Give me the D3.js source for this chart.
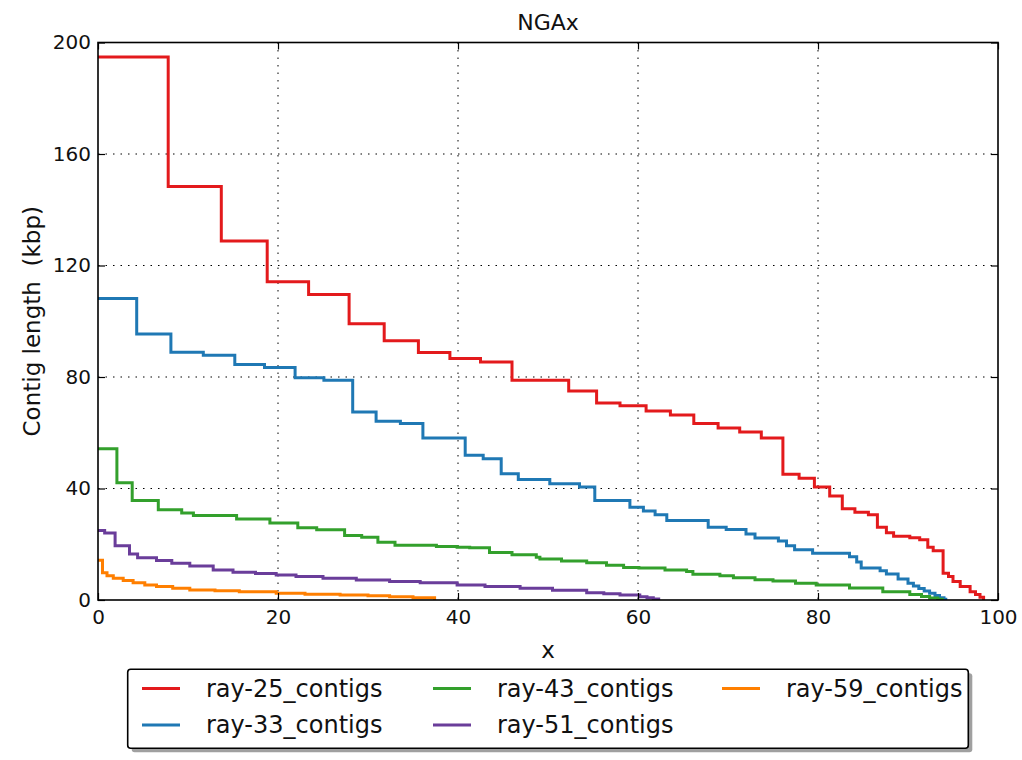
<!DOCTYPE html>
<html>
<head>
<meta charset="utf-8">
<script src="https://cdn.jsdelivr.net/npm/d3@7"></script>
<style>
  html, body { margin: 0; padding: 0; background: #fff; }
  svg { display: block; font-family: "DejaVu Sans", sans-serif; }
  text { white-space: pre; }
</style>
</head>
<body>
<svg id="chart" width="1022" height="760"></svg>
<script>
// ---- data ----
const title = "NGAx";
const xLabel = "x";
const yLabel = "Contig length  (kbp)";
const xTicks = [0, 20, 40, 60, 80, 100];
const yTicks = [0, 40, 80, 120, 160, 200];
const seriesNames = ["ray-25_contigs", "ray-33_contigs", "ray-43_contigs", "ray-51_contigs", "ray-59_contigs"];
const seriesColors = ["#E31A1C", "#1F78B4", "#33A02C", "#6A3D9A", "#FF7F00"];

const ray25X = [0,7.8,13.7,18.8,23.4,27.9,31.8,35.6,39.1,42.5,46.0,52.3,55.4,58.0,60.9,63.6,66.2,68.9,71.3,73.7,76.1,77.9,79.6,81.3,82.7,84.1,85.6,86.6,87.6,88.4,90.2,91.3,92.2,92.8,93.9,94.5,95.0,95.8,96.9,97.5,98.0,98.4];
const ray25Y = [194.8,148.3,128.8,114.2,109.6,99.1,93.0,88.8,86.6,85.4,78.8,75.0,70.7,69.7,67.8,66.4,63.3,61.7,60.3,58.1,45.1,43.7,40.5,37.3,32.7,31.5,30.6,26.1,24.1,22.9,22.3,21.6,18.9,17.7,9.6,8.4,6.6,4.8,3.0,2.0,1.0,0];

const ray33X = [0,4.3,8.1,11.7,15.2,18.5,21.9,25.1,28.3,30.9,33.6,36.1,40.8,42.8,44.8,46.7,50.2,53.5,55.2,59.1,60.6,61.9,63.2,67.8,69.8,72.0,73.0,75.6,76.5,77.4,79.4,83.5,84.3,84.8,86.9,87.6,88.9,90.0,90.6,91.2,91.8,92.4,93.0,93.5,94.0,94.2];
const ray33Y = [108.2,95.4,88.9,87.8,84.5,83.4,79.7,78.8,67.4,64.1,63.3,58.1,51.9,50.7,45.3,43.2,41.7,40.5,35.7,33.3,31.9,30.6,28.5,26.1,25.3,23.7,22.2,21.2,19.5,18.0,16.8,15.5,13.6,11.5,10.5,9.3,7.5,6.0,5.0,4.1,3.2,2.4,1.6,0.8,0.3,0];

const ray43X = [0,2.1,3.8,6.7,9.3,10.6,15.4,19.1,22.2,24.3,27.4,29.3,31.1,33.0,37.6,39.9,41.3,43.5,46.0,48.7,49.1,51.5,54.3,56.5,58.4,60.1,63.0,65.4,66.1,69.1,70.6,73.0,75.0,77.5,79.8,83.5,87.2,90.2,91.5,92.4,93.3,93.8];
const ray43Y = [54.3,42.1,35.7,32.4,31.2,30.3,29.1,27.6,25.9,25.2,23.1,22.5,20.7,19.6,19.2,18.9,18.7,17.0,16.2,15.3,14.7,14.0,13.4,12.5,11.7,11.5,10.8,10.2,9.2,8.7,8.0,7.3,6.8,6.0,5.4,4.3,3.0,2.0,1.3,0.7,0.3,0];

const ray51X = [0,0.74,1.9,3.5,4.4,6.5,8.2,10.2,12.8,15.0,17.5,19.8,22.0,25.0,28.7,32.4,35.8,39.9,43.0,46.9,50.5,54.3,56.2,58.0,60.2,61.0,61.7,62.3];
const ray51Y = [24.9,24.0,19.5,16.5,15.2,14.2,13.2,12.2,10.8,10.0,9.5,9.0,8.4,7.8,7.2,6.6,6.2,5.4,4.8,4.2,3.5,2.6,2.2,1.8,1.2,0.8,0.4,0];

const ray59X = [0,0.5,1.0,1.7,2.8,3.9,5.2,6.5,8.3,10.2,13.0,15.7,19.8,23.0,26.9,30.0,32.4,35.0,37.4];
const ray59Y = [14.3,9.8,8.7,7.8,7.0,6.2,5.4,4.8,4.2,3.6,3.3,3.0,2.4,2.1,1.8,1.5,1.2,0.8,0];

const seriesX = [ray25X, ray33X, ray43X, ray51X, ray59X];
const seriesY = [ray25Y, ray33Y, ray43Y, ray51Y, ray59Y];

// ---- layout ----
const svg = d3.select("#chart");
const L = 98, R = 998, T = 42.5, B = 600;

const x = d3.scaleLinear().domain([0, 100]).range([L, R]);
const y = d3.scaleLinear().domain([0, 200]).range([B, T]);

// grid
const grid = svg.append("g");
grid.selectAll("line.gx").data(xTicks.slice(1, -1)).enter().append("line")
  .attr("x1", d => x(d)).attr("x2", d => x(d)).attr("y1", T).attr("y2", B)
  .attr("stroke", "#000").attr("stroke-width", 1).attr("stroke-dasharray", "1.5,6");
grid.selectAll("line.gy").data(yTicks.slice(1, -1)).enter().append("line")
  .attr("y1", d => y(d)).attr("y2", d => y(d)).attr("x1", L).attr("x2", R)
  .attr("stroke", "#000").attr("stroke-width", 1).attr("stroke-dasharray", "1.5,6");

// lines
const line = d3.line().x(d => x(d[0])).y(d => y(d[1])).curve(d3.curveStepAfter);
svg.append("clipPath").attr("id", "clip").append("rect")
  .attr("x", L).attr("y", T - 2).attr("width", R - L).attr("height", B - T + 2);
const lines = svg.append("g").attr("clip-path", "url(#clip)");
seriesNames.forEach((name, i) => {
  const pts = seriesX[i].map((xv, j) => [xv, seriesY[i][j]]);
  lines.append("path")
    .attr("d", line(pts))
    .attr("fill", "none")
    .attr("stroke", seriesColors[i])
    .attr("stroke-width", 3)
    .attr("stroke-linejoin", "miter");
});

// axes (inward ticks on all sides)
const fontTick = 20;
const axB = svg.append("g").attr("transform", `translate(0,${B})`)
  .call(d3.axisBottom(x).tickValues(xTicks).tickSize(-7).tickPadding(10).tickFormat(d3.format("d")));
const axT = svg.append("g").attr("transform", `translate(0,${T})`)
  .call(d3.axisTop(x).tickValues(xTicks).tickSize(-7).tickFormat(""));
const axL = svg.append("g").attr("transform", `translate(${L},0)`)
  .call(d3.axisLeft(y).tickValues(yTicks).tickSize(-7).tickPadding(7).tickFormat(d3.format("d")));
const axR = svg.append("g").attr("transform", `translate(${R},0)`)
  .call(d3.axisRight(y).tickValues(yTicks).tickSize(-7).tickFormat(""));
[axB, axT, axL, axR].forEach(a => {
  a.select(".domain").remove();
  a.selectAll(".tick line").attr("stroke", "#000").attr("stroke-width", 1.2);
  a.selectAll(".tick text").attr("font-family", "DejaVu Sans").attr("font-size", fontTick).attr("fill", "#111");
});
axB.selectAll(".tick text").attr("dy", "0.71em");

// frame
svg.append("rect").attr("x", L).attr("y", T).attr("width", R - L).attr("height", B - T)
  .attr("fill", "none").attr("stroke", "#000").attr("stroke-width", 1.6);

// title and labels
svg.append("text").attr("x", (L + R) / 2).attr("y", 30).attr("text-anchor", "middle")
  .attr("font-size", 22).attr("fill", "#111").text(title);
svg.append("text").attr("x", (L + R) / 2).attr("y", 658).attr("text-anchor", "middle")
  .attr("font-size", 23).attr("fill", "#111").text(xLabel);
svg.append("text").attr("transform", `translate(40,${(T + B) / 2}) rotate(-90)`)
  .attr("text-anchor", "middle").attr("font-size", 23).attr("fill", "#111")
  .attr("xml:space", "preserve").text(yLabel);

// legend
const lgX = 127.7, lgY = 669.3, lgW = 840.6, lgH = 79;
svg.append("rect").attr("x", lgX + 4).attr("y", lgY + 4).attr("width", lgW).attr("height", lgH)
  .attr("rx", 3).attr("fill", "#888").attr("opacity", 0.8);
svg.append("rect").attr("x", lgX).attr("y", lgY).attr("width", lgW).attr("height", lgH)
  .attr("rx", 3).attr("fill", "#fff").attr("stroke", "#000").attr("stroke-width", 1.6);
const colX = [142, 433, 722];
const rowY = [688.5, 725];
seriesNames.forEach((name, i) => {
  const col = Math.floor(i / 2), row = i % 2;
  const g = svg.append("g").attr("transform", `translate(${colX[col]},${rowY[row]})`);
  g.append("line").attr("x1", 0).attr("x2", 38).attr("y1", 0).attr("y2", 0)
    .attr("stroke", seriesColors[i]).attr("stroke-width", 3);
  g.append("text").attr("x", 64).attr("y", 0).attr("dy", "0.35em")
    .attr("font-size", 24).attr("fill", "#111").text(name);
});
</script>
</body>
</html>
